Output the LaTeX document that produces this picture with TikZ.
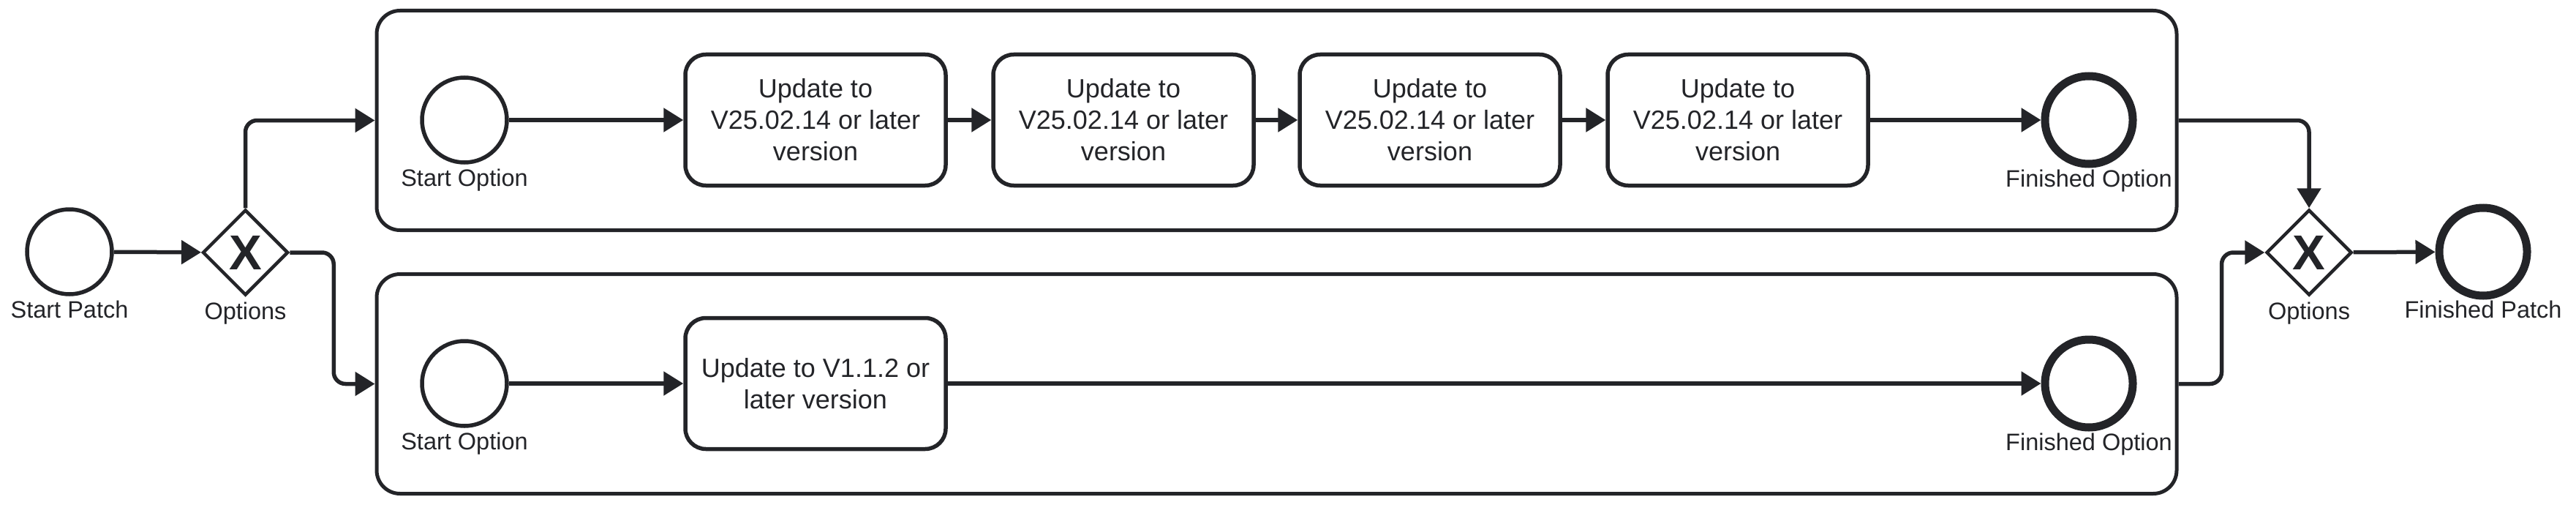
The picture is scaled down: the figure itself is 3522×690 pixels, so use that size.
\documentclass[tikz,border=0pt]{standalone}
\usepackage{fontspec}
\setmainfont{Liberation Sans}
\usetikzlibrary{shapes.geometric,arrows.meta}
\definecolor{ink}{RGB}{35,36,40}
\begin{document}
\begin{tikzpicture}[x=1pt,y=-1pt,
    flow/.style={draw=ink, line width=5.5pt, rounded corners=16pt, -{Triangle[length=27pt,width=32pt]}},
    lbl/.style={text=ink, anchor=base, inner sep=0pt, font=\fontsize{32.5}{39}\selectfont},
    event/.style={circle, draw=ink, line width=5.5pt, minimum size=116pt, inner sep=0pt},
    endevent/.style={circle, draw=ink, line width=11pt, minimum size=120pt, inner sep=0pt},
    gateway/.style={diamond, draw=ink, line width=4.5pt, minimum width=117pt, minimum height=117pt, inner sep=0pt, text=ink, font=\fontsize{67}{67}\selectfont\bfseries},
    task/.style={rectangle, rounded corners=28pt, draw=ink, line width=5.5pt, minimum width=356pt, minimum height=179pt, align=center, text=ink, font=\fontsize{36}{43}\selectfont},
    pool/.style={rectangle, rounded corners=32pt, draw=ink, line width=5pt, minimum width=2461pt, minimum height=300pt, inner sep=0pt}]
    \useasboundingbox (0,0) rectangle (3522,690);
    \node[pool] (p1) at (1745.5,164.5) {};
    \node[pool] (p2) at (1745.5,524.5) {};
    \node[event] (sp) at (95,344) {};
    \node[gateway] (g1) at (335.5,345) {X};
    \node[event] (s1) at (635,164) {};
    \node[task] (t1) at (1115,164) {Update to\\V25.02.14 or later\\version};
    \node[task] (t2) at (1536,164) {Update to\\V25.02.14 or later\\version};
    \node[task] (t3) at (1955,164) {Update to\\V25.02.14 or later\\version};
    \node[task] (t4) at (2376,164) {Update to\\V25.02.14 or later\\version};
    \node[endevent] (e1) at (2856,164) {};
    \node[event] (s2) at (635,524) {};
    \node[task] (t5) at (1115,524) {Update to V1.1.2 or\\later version};
    \node[endevent] (e2) at (2856,524) {};
    \node[gateway] (g2) at (3157,345) {X};
    \node[endevent] (ep) at (3395,344) {};
    \node[lbl] (sp-l) at ([yshift=-90pt]sp.center) {Start Patch};
    \node[lbl] (g1-l) at ([yshift=-91pt]g1.center) {Options};
    \node[lbl] (s1-l) at ([yshift=-90pt]s1.center) {Start Option};
    \node[lbl] (s2-l) at ([yshift=-90pt]s2.center) {Start Option};
    \node[lbl] (e1-l) at ([yshift=-91pt]e1.center) {Finished Option};
    \node[lbl] (e2-l) at ([yshift=-91pt]e2.center) {Finished Option};
    \node[lbl] (g2-l) at ([yshift=-91pt]g2.center) {Options};
    \node[lbl] (ep-l) at ([yshift=-90pt]ep.center) {Finished Patch};
    \draw[flow] (sp) -- (g1);
    \draw[flow] (g1.north) |- (p1.west);
    \draw[flow] (g1.east) -- ++(60,0) |- (p2.west);
    \foreach \a/\b in {s1/t1,t1/t2,t2/t3,t3/t4,t4/e1,s2/t5,t5/e2}
        \draw[flow] (\a) -- (\b);
    \draw[flow] (p1.east) -| (g2.north);
    \draw[flow] (p2.east) -- ++(59,0) |- (g2.west);
    \draw[flow] (g2) -- (ep);
\end{tikzpicture}
\end{document}
